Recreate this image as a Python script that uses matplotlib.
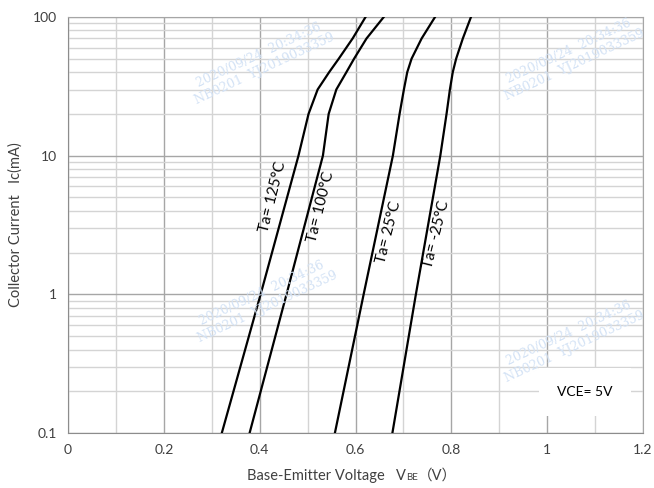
import matplotlib
matplotlib.use("Agg")
import matplotlib.pyplot as plt
import matplotlib.ticker as ticker

plt.rcParams["font.family"] = ["Lato", "Noto Sans CJK SC", "DejaVu Sans"]

# ── data ──────────────────────────────────────────────────────────────────────

IC_MA = [0.1, 1, 10, 20, 30, 40, 50, 70, 100]

VBE_125 = [0.321, 0.402, 0.481, 0.502, 0.521, 0.545, 0.565, 0.594, 0.621]
VBE_100 = [0.379, 0.456, 0.532, 0.544, 0.560, 0.581, 0.597, 0.623, 0.659]
VBE_25  = [0.557, 0.617, 0.678, 0.692, 0.701, 0.708, 0.717, 0.738, 0.766]
VBE_M25 = [0.677, 0.726, 0.777, 0.790, 0.797, 0.803, 0.810, 0.824, 0.841]

CURVE_LABELS = ["Ta= 125°C", "Ta= 100°C", "Ta= 25°C", "Ta= -25°C"]
LABEL_POS = [(0.428, 5.0), (0.528, 4.27), (0.670, 2.82), (0.770, 2.72)]

X_TICKS = [0, 0.2, 0.4, 0.6, 0.8, 1.0, 1.2]
X_TICK_LABELS = ["0", "0.2", "0.4", "0.6", "0.8", "1", "1.2"]
Y_TICKS = [0.1, 1, 10, 100]
Y_TICK_LABELS = ["0.1", "1", "10", "100"]

VCE_NOTE = "VCE= 5V"
VCE_POS = (1.079, 0.198)

WATERMARK = "2020/09/24  20:34:36\nNB0201  YJ2019033359"

# ── plot ──────────────────────────────────────────────────────────────────────

fig = plt.figure(figsize=(6.54, 4.88), dpi=100)
ax = fig.add_axes([68 / 654, 55 / 488, 575 / 654, 416 / 488])

ax.set_xlim(0, 1.2)
ax.set_yscale("log")
ax.set_ylim(0.1, 100)

# grid: darker on 0.2 steps / decades, lighter in between
ax.xaxis.set_major_locator(ticker.FixedLocator(X_TICKS))
ax.xaxis.set_minor_locator(ticker.MultipleLocator(0.1))
ax.yaxis.set_major_locator(ticker.FixedLocator(Y_TICKS))
ax.yaxis.set_minor_locator(ticker.LogLocator(base=10, subs=range(2, 10)))
ax.yaxis.set_minor_formatter(ticker.NullFormatter())
ax.grid(True, which="major", color="#a6a6a6", lw=1.0)
ax.grid(True, which="minor", color="#d4d4d4", lw=1.0)
ax.set_axisbelow(True)

ax.set_xticklabels(X_TICK_LABELS)
ax.set_yticklabels(Y_TICK_LABELS)
ax.tick_params(which="both", length=0, colors="#404040", labelsize=10)
ax.tick_params(axis="x", pad=8)
ax.tick_params(axis="y", pad=8)

for side in ["left", "bottom"]:
    ax.spines[side].set_color("#8c8c8c")
for side in ["top", "right"]:
    ax.spines[side].set_color("#a6a6a6")

# watermarks (faint, under the data)
for (fx, fy) in [(262, 62), (572, 58), (265, 300), (572, 340)]:
    fig.text(fx / 654, 1 - fy / 488, WATERMARK, rotation=25, ha="center",
             va="center", fontsize=9, color="#d3e2f5", family="DejaVu Serif",
             zorder=0.5, linespacing=1.1)

for vbe in [VBE_125, VBE_100, VBE_25, VBE_M25]:
    ax.plot(vbe, IC_MA, color="black", lw=1.6, zorder=3)

for label, (x, y) in zip(CURVE_LABELS, LABEL_POS):
    ax.text(x, y, label, rotation=76, ha="center", va="center",
            fontsize=11, color="black", zorder=4)

# VCE note on a white patch
ax.text(VCE_POS[0], VCE_POS[1], VCE_NOTE, ha="center", va="center",
        fontsize=10, color="black", zorder=5,
        bbox=dict(boxstyle="square,pad=1.3", fc="white", ec="none"))

# axis labels
fig.text(16 / 654, 1 - 225 / 488, "Collector Current   Ic(mA)", rotation=90,
         ha="center", va="center", fontsize=10.5, color="#404040")

fig.canvas.draw()
r = fig.canvas.get_renderer()
x0, y0 = 247 / 654, 1 - 480 / 488
t1 = fig.text(x0, y0, "Base-Emitter Voltage   V", ha="left", va="baseline",
              fontsize=10.5, color="#404040")
w1 = t1.get_window_extent(r).width / fig.bbox.width
t2 = fig.text(x0 + w1, y0, "BE", ha="left", va="baseline",
              fontsize=7, color="#404040")
w2 = t2.get_window_extent(r).width / fig.bbox.width
fig.text(x0 + w1 + w2, y0, "（V）", ha="left", va="baseline",
         fontsize=10.5, color="#404040")

fig.savefig("out.png", dpi=100)
